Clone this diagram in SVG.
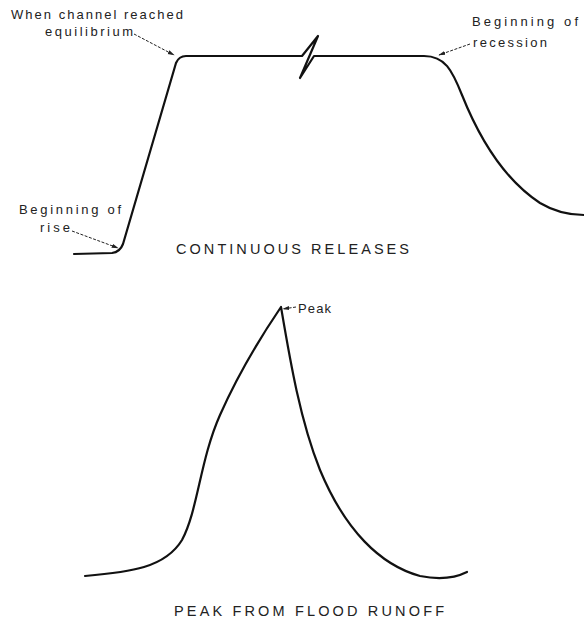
<svg xmlns="http://www.w3.org/2000/svg" width="584" height="624" viewBox="0 0 584 624">
<style>
.c{fill:none;stroke:#111;stroke-width:2.2;stroke-linejoin:round;stroke-linecap:round}
.l{fill:none;stroke:#222;stroke-width:1;stroke-dasharray:3 1.5}
.t{font-family:"Liberation Sans",Arial,sans-serif;font-size:13px;fill:#222}
.h{font-family:"Liberation Sans",Arial,sans-serif;font-size:14.5px;fill:#222}
</style>
<defs>
<marker id="a" viewBox="0 0 10 10" refX="9" refY="5" markerWidth="7" markerHeight="7" orient="auto"><path d="M0,2 L10,5 L0,8 Z" fill="#222"/></marker>
</defs>
<rect width="584" height="624" fill="#fff"/>
<g id="curves">
<path class="c" d="M74 254 L112 253 Q120 252 123 244 L176 63 Q179 56 186 56 L302 56 L318 36 L300 78 L314 56 L424 56 C445 56 452 70 462 95 C480 140 505 180 540 203 C555 212 570 215 584 215"/>
<path class="c" d="M85 576 C130 572 165 568 182 540 C198 510 200 460 220 415 C240 370 262 335 281 307 C290 360 300 420 320 470 C345 530 380 565 420 576 C440 580 455 578 467 572"/>
</g>
<g id="connectors">
<path class="l" d="M134 34 L174 55" marker-end="url(#a)"/>
<path class="l" d="M470 44 L439 55" marker-end="url(#a)"/>
<path class="l" d="M72 231 L118 248" marker-end="url(#a)"/>
<path class="l" d="M296 307 L283 309" marker-end="url(#a)"/>
</g>
<g id="label-equilibrium">
<text class="t" x="11" y="19" textLength="172" lengthAdjust="spacing">When channel reached</text>
<text class="t" x="45" y="36" textLength="88" lengthAdjust="spacing">equilibrium</text>
</g>
<g id="label-recession">
<text class="t" x="472" y="26" textLength="106" lengthAdjust="spacing">Beginning of</text>
<text class="t" x="473" y="47" textLength="74" lengthAdjust="spacing">recession</text>
</g>
<g id="label-rise">
<text class="t" x="19" y="214" textLength="102" lengthAdjust="spacing">Beginning of</text>
<text class="t" x="40" y="232" textLength="30" lengthAdjust="spacing">rise</text>
</g>
<g id="label-peak">
<text class="t" x="298" y="313" textLength="33" lengthAdjust="spacing">Peak</text>
</g>
<text class="h" x="176" y="254" textLength="233" lengthAdjust="spacing">CONTINUOUS RELEASES</text>
<text class="h" x="174" y="616" textLength="270" lengthAdjust="spacing">PEAK FROM FLOOD RUNOFF</text>
</svg>
